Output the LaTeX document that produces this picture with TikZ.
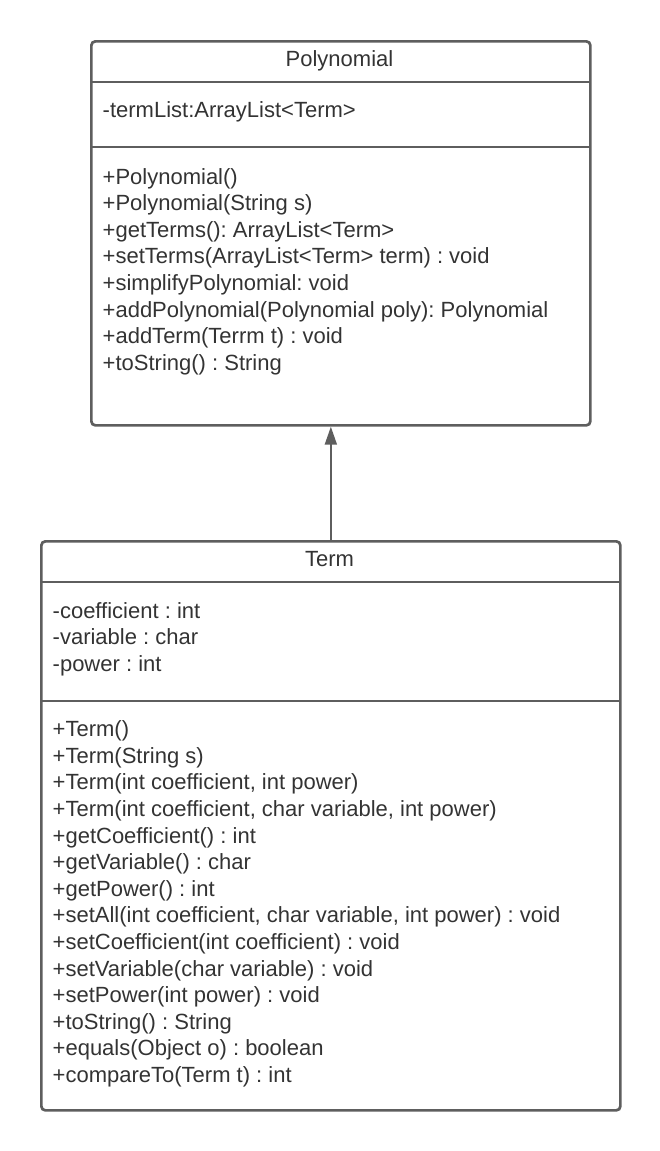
\documentclass[tikz,border=0pt]{standalone}
\usepackage{fontspec}
\setmainfont{Liberation Sans}
\usetikzlibrary{arrows.meta}
\definecolor{linegray}{HTML}{5E5E5E}
\definecolor{textgray}{HTML}{333333}
\frenchspacing

\begin{document}
\begin{tikzpicture}[x=1pt,y=-1pt,
            class box/.style={draw=linegray, line width=2.7pt, rounded corners=4pt, anchor=north west, inner sep=0pt},
            divider/.style={draw=linegray, line width=2.7pt},
            member/.style={anchor=base west, inner sep=0pt, text=textgray, font=\fontsize{22}{26.5}\selectfont},
            title/.style={anchor=base, inner sep=0pt, text=textgray, font=\fontsize{22}{26.5}\selectfont},
            inherit/.style={draw=linegray, line width=2pt, -{Triangle[width=12pt,length=18pt]}},
            ]
            \useasboundingbox (0,0) rectangle (660,1151);

            % Polynomial
            \node[class box, minimum width=499pt, minimum height=384pt] (poly) at (90,40) {};
            \draw[divider] (90,82) -- (589,82);
            \draw[divider] (90,147) -- (589,147);
            \node[title] (polytitle) at (339.5,66) {Polynomial};
            \node[member] (pa0) at (102.5,117.5) {-termList:ArrayList<Term>};
            \foreach \txt [count=\i from 0] in {{+Polynomial()}, {+Polynomial(String s)},
                    {+getTerms(): ArrayList<Term>}, {+setTerms(ArrayList<Term> term) : void},
                    {+simplifyPolynomial: void}, {+addPolynomial(Polynomial poly): Polynomial},
                    {+addTerm(Terrm t) : void}, {+toString() : String}}
                \node[member] (pm\i) at (102.5,184+26.6*\i) {\txt};

            % Term
            \node[class box, minimum width=579pt, minimum height=569pt] (term) at (40,540) {};
            \draw[divider] (40,582) -- (619,582);
            \draw[divider] (40,701) -- (619,701);
            \node[title] (termtitle) at (329.5,566) {Term};
            \foreach \txt [count=\i from 0] in {{-coefficient : int}, {-variable : char}, {-power : int}}
                \node[member] (ta\i) at (52.5,618+26.6*\i) {\txt};
            \foreach \txt [count=\i from 0] in {{+Term()}, {+Term(String s)},
                    {+Term(int coefficient, int power)}, {+Term(int coefficient, char variable, int power)},
                    {+getCoefficient() : int}, {+getVariable() : char}, {+getPower() : int},
                    {+setAll(int coefficient, char variable, int power) : void},
                    {+setCoefficient(int coefficient) : void}, {+setVariable(char variable) : void},
                    {+setPower(int power) : void}, {+toString() : String},
                    {+equals(Object o) : boolean}, {+compareTo(Term t) : int}}
                \node[member] (tm\i) at (52.5,736.7+26.6*\i) {\txt};

            \draw[inherit] (term.north) -- (term.north |- poly.south);
\end{tikzpicture}
\end{document}
